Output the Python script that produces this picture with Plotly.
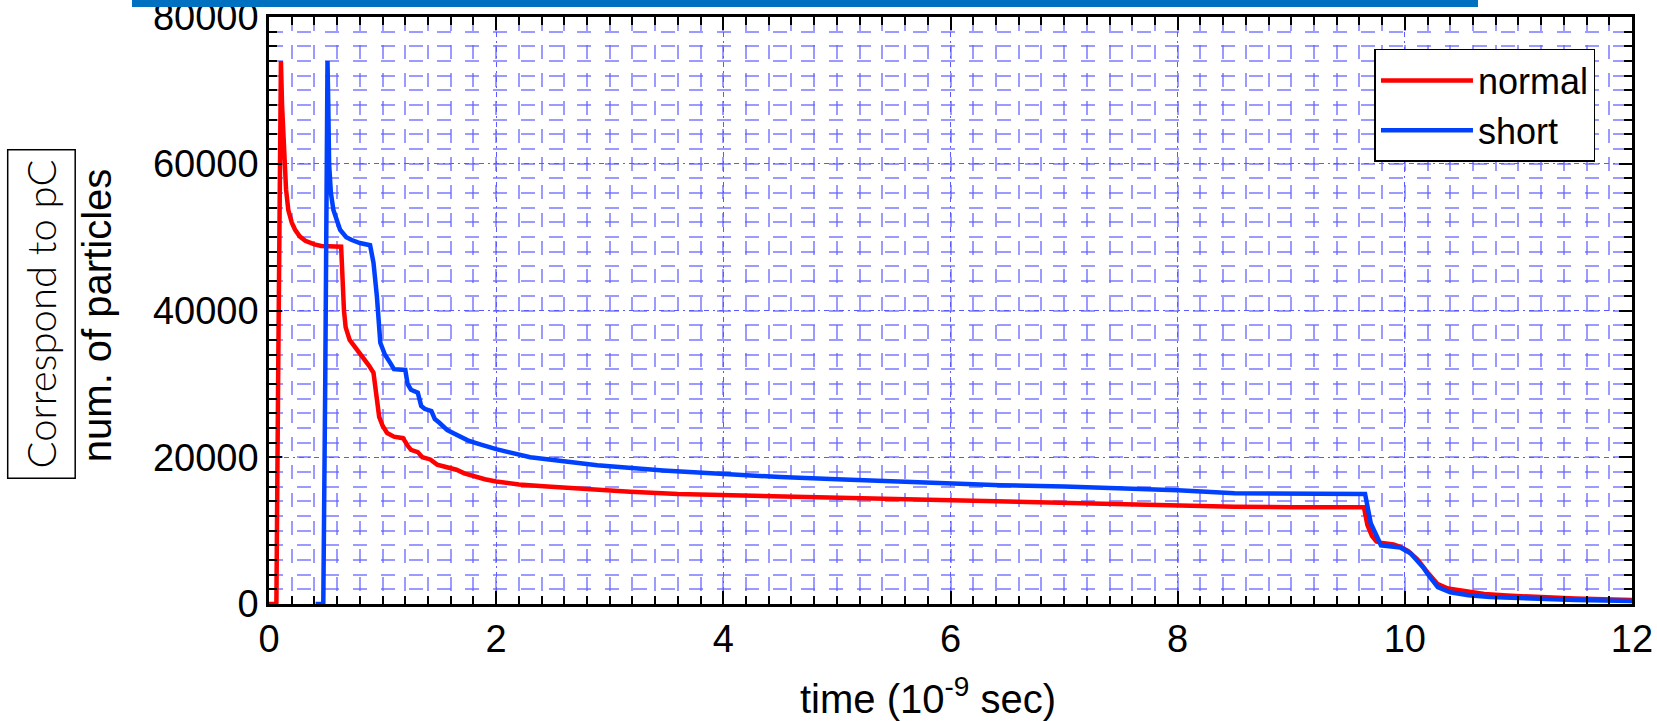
import plotly.graph_objects as go

# ---------------- data ----------------
normal_t = [0.0, 0.065, 0.08, 0.105, 0.115, 0.135, 0.15, 0.17, 0.20, 0.23, 0.27, 0.32, 0.40, 0.46, 0.635,
            0.66, 0.675, 0.71, 0.77, 0.83, 0.88, 0.92, 0.935, 0.95, 0.97, 1.00, 1.04, 1.10, 1.18,
            1.22, 1.25, 1.31, 1.35, 1.42, 1.48, 1.55, 1.65, 1.72, 1.80, 1.90, 2.0, 2.2, 2.45, 2.8,
            3.18, 3.6, 4.0, 4.5, 5.0, 5.5, 6.0, 6.44, 7.0, 7.5, 8.0, 8.5, 9.0, 9.64, 9.67, 9.71,
            9.75, 9.80, 9.90, 9.96, 10.03, 10.11, 10.20, 10.29, 10.38, 10.47, 10.6, 10.7, 10.9,
            11.14, 11.5, 12.0]
normal_v = [0, 0, 30000, 74000, 68000, 60000, 56500, 53700, 52000, 51000, 50100, 49500, 49000, 48800, 48700,
            40000, 37700, 36000, 34800, 33700, 32500, 31500, 29500, 27000, 25500, 24300, 23300, 22800, 22600,
            21600, 21000, 20700, 20000, 19700, 19000, 18700, 18300, 17800, 17400, 17000, 16700, 16300, 16000, 15600,
            15300, 15000, 14850, 14700, 14500, 14300, 14100, 13900, 13700, 13550, 13400, 13250, 13200, 13200, 10800, 9300,
            8500, 8300, 8100, 7800, 7200, 6100, 4300, 2700, 2100, 1850, 1550, 1350, 1150,
            950, 750, 550]

short_t = [0.41, 0.478, 0.495, 0.515, 0.522, 0.529, 0.545, 0.567, 0.60, 0.626, 0.68, 0.729, 0.80, 0.89,
           0.92, 0.95, 0.98, 1.02, 1.07, 1.10, 1.20, 1.22, 1.25, 1.31, 1.34, 1.37, 1.43, 1.46, 1.50,
           1.57, 1.62, 1.68, 1.75, 1.83, 2.0, 2.3, 2.89, 3.47, 4.0, 4.5, 5.0, 5.5, 6.0, 6.44, 7.0, 7.5,
           8.0, 8.5, 9.0, 9.65, 9.70, 9.74, 9.79, 9.90, 9.96, 10.05, 10.16, 10.22, 10.29, 10.40,
           10.56, 10.75, 11.0, 11.5, 12.0]
short_v = [0, 0, 30000, 74000, 68000, 60000, 56000, 53700, 52000, 51000, 50000, 49600, 49200, 48900,
           46500, 41900, 35600, 34000, 32800, 32000, 31900, 30000, 29200, 28800, 27000, 26600, 26300, 25200, 24700,
           23700, 23300, 22800, 22300, 21900, 21100, 20000, 18900, 18200, 17700, 17300, 17000, 16700, 16450, 16200, 16000, 15800,
           15500, 15100, 15050, 15000, 11000, 9500, 8000, 7800, 7700, 6900, 5000, 3700, 2300, 1600,
           1200, 950, 800, 550, 400]

series_names = ["normal", "short"]
series_colors = ["#FF0000", "#0040FF"]

x_tick_vals = [0, 2, 4, 6, 8, 10, 12]
y_tick_vals = [0, 20000, 40000, 60000, 80000]

FONT = "Liberation Sans, Arial, sans-serif"

fig = go.Figure()
for name, tt, vv, col in zip(series_names, [normal_t, short_t], [normal_v, short_v], series_colors):
    fig.add_trace(go.Scatter(x=tt, y=vv, mode="lines", name=name,
                             line=dict(color=col, width=4.5)))

grid_minor = dict(showgrid=True, gridcolor="rgba(100,100,255,0.65)", griddash="14px,14px", gridwidth=1.6,
                  ticklen=8, tickwidth=2, tickcolor="black")

common_axis = dict(ticks="inside", ticklen=13, tickwidth=2, tickcolor="black", showline=True,
                   linecolor="black", linewidth=2.5, mirror="allticks", showgrid=True,
                   gridcolor="#5a5aff", griddash="5px,4px,2px,4px", gridwidth=1.3, zeroline=False,
                   tickfont=dict(family=FONT, size=38, color="black"), ticklabeloverflow="allow",
                   automargin=False)

fig.update_xaxes(range=[0, 12], tickvals=x_tick_vals, minor=dict(dtick=0.2, ticks="inside", **grid_minor),
                 **common_axis)
fig.update_yaxes(range=[0, 80000], tickvals=y_tick_vals, tickformat="d",
                 minor=dict(dtick=2000, ticks="inside", **grid_minor), **common_axis)

fig.update_layout(
    width=1657, height=721,
    margin=dict(l=269, r=25, t=17, b=117, autoexpand=False),
    paper_bgcolor="white", plot_bgcolor="white",
    font=dict(family=FONT, color="black"),
    legend=dict(x=0.9732, y=0.9455, xanchor="right", yanchor="top",
                bgcolor="white", bordercolor="black", borderwidth=1.5,
                font=dict(family=FONT, size=36, color="black"),
                tracegroupgap=0, itemwidth=92),
    annotations=[
        dict(text="num. of particles", xref="paper", yref="paper", x=-0.1262, y=0.492,
             textangle=-90, showarrow=False, xanchor="center", yanchor="middle",
             font=dict(family=FONT, size=40, color="black")),
        dict(text="Correspond to pC", xref="paper", yref="paper", x=-0.1673, y=0.494,
             textangle=-90, showarrow=False, xanchor="center", yanchor="middle",
             bordercolor="black", borderwidth=1.5, borderpad=9, bgcolor="white",
             font=dict(family="Lato, Liberation Sans, sans-serif", size=40, color="black", weight=300)),
        dict(text="time (10<sup>-9</sup> sec)", xref="paper", yref="paper", x=0.4835, y=-0.157,
             showarrow=False, xanchor="center", yanchor="middle",
             font=dict(family=FONT, size=40, color="black")),
    ],
    shapes=[
        dict(type="rect", xref="paper", yref="paper", x0=-0.1005, x1=0.887, y0=1.017, y1=1.04,
             fillcolor="#0070C0", line=dict(width=0), layer="above"),
    ],
)

fig.write_html("out.html", config={"displayModeBar": False},
               post_script="document.body.style.margin='0px';")
